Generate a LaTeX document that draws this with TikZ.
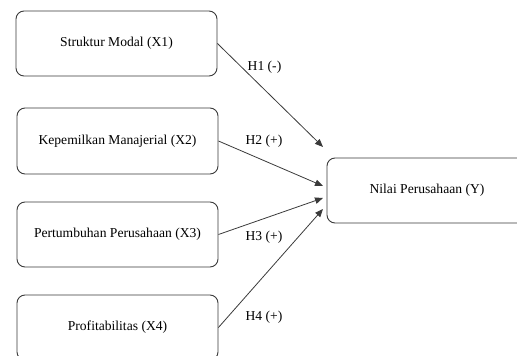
\documentclass[tikz,border=0pt]{standalone}
\usepackage{fontspec}
\setmainfont{Liberation Serif}
\usetikzlibrary{arrows.meta}
\definecolor{edge}{HTML}{3A3A3A}
\tikzset{
  varbox/.style={draw=edge, line width=0.9pt, rounded corners=8pt, minimum width=201pt, minimum height=65pt, inner sep=0pt, font=\fontsize{13.6}{16}\selectfont, text=black},
  hyp/.style={font=\fontsize{13.6}{16}\selectfont, inner sep=0pt, text=black},
  link/.style={draw=edge, line width=0.8pt, -{Triangle[length=8pt,width=6.5pt]}}
}
\begin{document}
\begin{tikzpicture}[x=1pt,y=-1pt]
\path[use as bounding box, clip] (0,0) rectangle (517,356);
\node[varbox] (x1) at (116.5,43.5) {Struktur Modal (X1)};
\node[varbox, minimum height=66pt] (x2) at (117.5,141) {Kepemilkan Manajerial (X2)};
\node[varbox] (x3) at (117.5,234.5) {Pertumbuhan Perusahaan (X3)};
\node[varbox] (x4) at (117.5,327.5) {Profitabilitas (X4)};
\node[varbox, minimum width=200pt] (y) at (427,190.5) {Nilai Perusahaan (Y)};
\coordinate (t1) at (323,147);
\coordinate (t2) at (323,186);
\coordinate (t3) at (323,198);
\coordinate (t4) at (323,209);
\draw[link] (x1.east) -- (t1);
\draw[link] (x2.east) -- (t2);
\draw[link] (x3.east) -- (t3);
\draw[link] (x4.east) -- (t4);
\node[hyp] (h1) at (264.5,67) {H1 (-)};
\node[hyp] (h2) at (264,141) {H2 (+)};
\node[hyp] (h3) at (264,237) {H3 (+)};
\node[hyp] (h4) at (264,317) {H4 (+)};
\end{tikzpicture}
\end{document}
